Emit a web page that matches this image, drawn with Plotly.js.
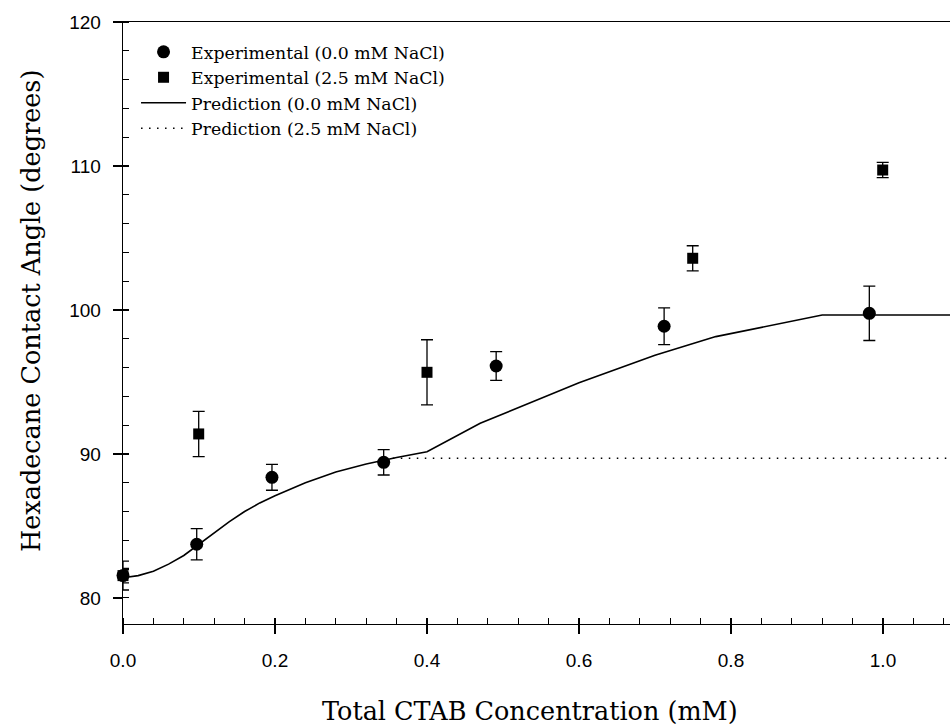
<!DOCTYPE html>
<html>
<head>
<meta charset="utf-8">
<script src="https://cdn.plot.ly/plotly-3.0.1.min.js"></script>
<style>
html,body{margin:0;padding:0;overflow:hidden;background:#fff;}
#chart{width:960px;height:726px;}
</style>
</head>
<body>
<div id="chart"></div>
<script>
// Experimental, 0.0 mM NaCl
const expX0 = [0.0, 0.097, 0.196, 0.343, 0.491, 0.712, 0.982];
const expY0 = [81.55, 83.73, 88.38, 89.42, 96.11, 98.87, 99.77];
const expE0 = [1.0, 1.08, 0.9, 0.88, 1.0, 1.28, 1.89];
// Experimental, 2.5 mM NaCl
const expX25 = [0.0, 0.0996, 0.4, 0.7496, 0.9996];
const expY25 = [81.55, 91.39, 95.67, 103.59, 109.72];
const expE25 = [0.5, 1.57, 2.26, 0.87, 0.53];
// Prediction, 0.0 mM NaCl
const predX0 = [0.0, 0.02, 0.04, 0.06, 0.08, 0.10, 0.12, 0.14, 0.16, 0.18, 0.20, 0.24, 0.28, 0.32, 0.36, 0.40, 0.47, 0.50, 0.575, 0.60, 0.68, 0.70, 0.78, 0.85, 0.92, 1.10];
const predY0 = [81.40, 81.55, 81.85, 82.35, 82.95, 83.75, 84.55, 85.30, 86.00, 86.60, 87.10, 88.00, 88.75, 89.30, 89.75, 90.15, 92.13, 92.79, 94.44, 94.94, 96.48, 96.85, 98.15, 98.90, 99.65, 99.65];
// Prediction, 2.5 mM NaCl (flat part visible beyond the solid curve)
const predX25 = [0.355, 1.10];
const predY25 = [89.70, 89.70];
// Axis titles
const xTitle = 'Total CTAB Concentration (mM)';
const yTitle = 'Hexadecane Contact Angle (degrees)';

const serif = 'DejaVu Serif, serif';
const sans = 'Liberation Sans, Arial, sans-serif';

const traces = [
  {x: expX0, y: expY0, type: 'scatter', mode: 'markers', name: 'Experimental (0.0 mM NaCl)',
   legendgroup: 'a', cliponaxis: false,
   marker: {symbol: 'circle', size: 13, color: '#000'},
   error_y: {type: 'data', array: expE0, visible: true, color: '#000', thickness: 1.3, width: 6}},
  {x: expX25, y: expY25, type: 'scatter', mode: 'markers', name: 'Experimental (2.5 mM NaCl)',
   legendgroup: 'b', cliponaxis: false,
   marker: {symbol: 'square', size: 11, color: '#000'},
   error_y: {type: 'data', array: expE25, visible: true, color: '#000', thickness: 1.3, width: 6}},
  {x: predX0, y: predY0, type: 'scatter', mode: 'lines', name: 'Prediction (0.0 mM NaCl)',
   legendgroup: 'c', line: {color: '#000', width: 1.6}},
  {x: predX25, y: predY25, type: 'scatter', mode: 'lines', name: 'Prediction (2.5 mM NaCl)',
   legendgroup: 'd', line: {color: '#000', width: 1.4, dash: '1.5px,6.5px'}}
];

const layout = {
  width: 960, height: 726,
  margin: {l: 123, r: 1, t: 22, b: 102},
  paper_bgcolor: '#fff', plot_bgcolor: '#fff',
  showlegend: true,
  legend: {x: 0.0156, y: 0.980, xanchor: 'left', yanchor: 'top', xref: 'paper', yref: 'paper',
           bgcolor: 'rgba(0,0,0,0)', borderwidth: 0, tracegroupgap: 0, itemwidth: 45,
           font: {family: serif, size: 17.3, color: '#000'}},
  xaxis: {
    range: [0, 1.1], tick0: 0, dtick: 0.2, tickformat: '.1f',
    showgrid: false, zeroline: false, showline: true, linecolor: '#000', linewidth: 1.3, mirror: true,
    ticks: 'outside', ticklen: 9, tickwidth: 1.3, tickcolor: '#000', ticklabelstandoff: 10,
    tickfont: {family: sans, size: 19, color: '#000'},
    minor: {dtick: 0.04, ticks: 'inside', ticklen: 6, tickwidth: 1.1, tickcolor: '#000', showgrid: false}
  },
  yaxis: {
    range: [78.19, 120], tick0: 80, dtick: 10,
    showgrid: false, zeroline: false, showline: true, linecolor: '#000', linewidth: 1.3, mirror: true,
    ticks: 'outside', ticklen: 9, tickwidth: 1.3, tickcolor: '#000', ticklabelstandoff: 8,
    tickfont: {family: sans, size: 19, color: '#000'},
    minor: {dtick: 2, ticks: 'inside', ticklen: 6, tickwidth: 1.1, tickcolor: '#000', showgrid: false}
  },
  annotations: [
    {text: xTitle, xref: 'paper', yref: 'paper', x: 0.4873, y: -0.1445, xanchor: 'center', yanchor: 'middle',
     showarrow: false, font: {family: serif, size: 25.5, color: '#000'}},
    {text: yTitle, xref: 'paper', yref: 'paper', x: -0.110, y: 0.52, xanchor: 'center', yanchor: 'middle',
     textangle: -90, showarrow: false, font: {family: serif, size: 25.5, color: '#000'}}
  ]
};

Plotly.newPlot('chart', traces, layout, {staticPlot: true, displayModeBar: false});
</script>
</body>
</html>
